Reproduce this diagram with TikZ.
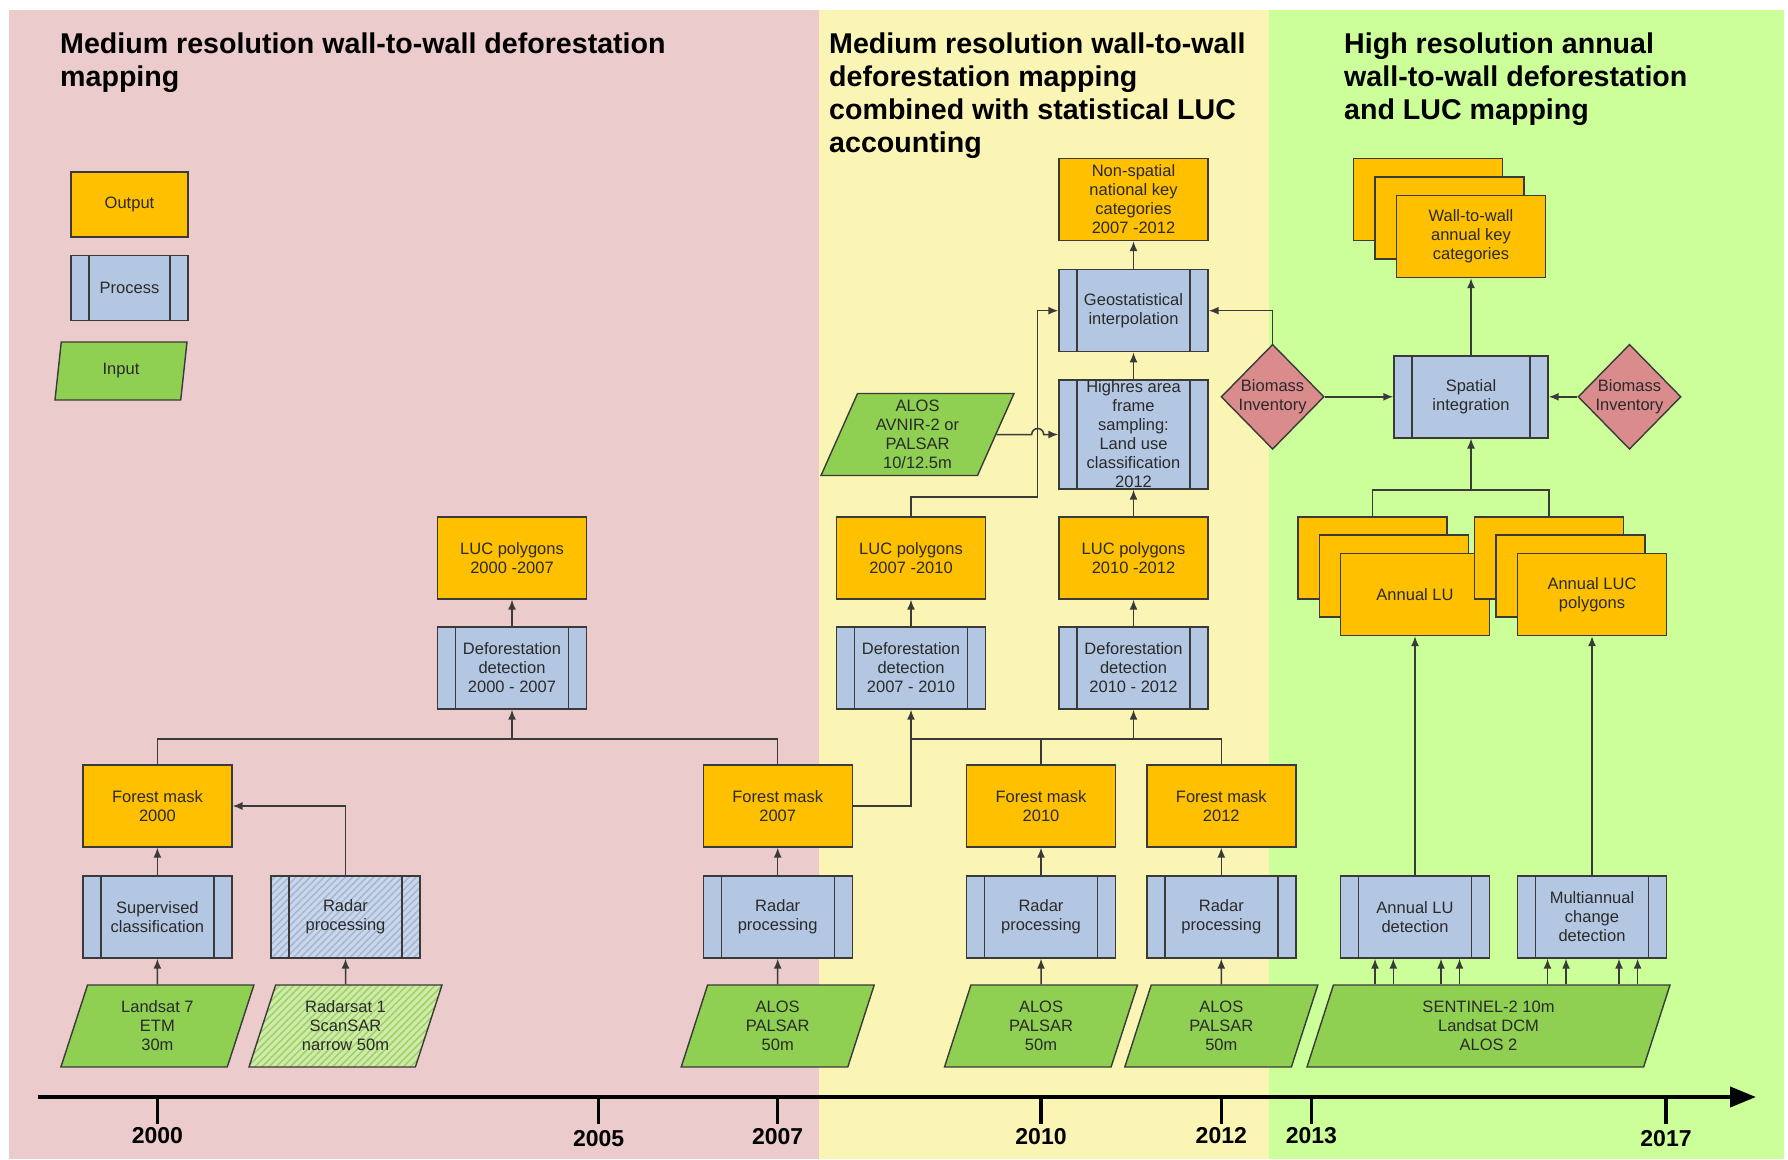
\documentclass[tikz,border=0pt]{standalone}
\usepackage{fontspec}
\setmainfont{Liberation Sans}
\usetikzlibrary{shapes.geometric,arrows.meta,patterns.meta}
\definecolor{pinkbg}{HTML}{EBCBCB}
\definecolor{yelbg}{HTML}{FAF5B4}
\definecolor{grnbg}{HTML}{CCFF99}
\definecolor{outc}{HTML}{FFC000}
\definecolor{procc}{HTML}{B4C7E2}
\definecolor{inc}{HTML}{8FCF52}
\definecolor{diac}{HTML}{DA8B8B}
\definecolor{linec}{HTML}{3A3A3A}
\definecolor{txtc}{HTML}{2A2A2A}
\definecolor{hinc}{HTML}{CFEBA8}
\definecolor{hinl}{HTML}{9FD06A}
\definecolor{hprc}{HTML}{CAD7EA}
\definecolor{hprl}{HTML}{A3B6D4}
\newcommand\bx{\fontsize{16.5}{19}\selectfont}
\newcommand\ttl{\bfseries\fontsize{28.6}{33}\selectfont}
\newcommand\yr{\bfseries\fontsize{23}{26}\selectfont}
\begin{document}
\begin{tikzpicture}[x=1pt,y=-1pt,
  ln/.style={draw=linec, line width=1.5pt},
  arr/.style={ln, -{Latex[length=10pt,width=8pt]}},
  box/.style={draw=linec, line width=1.4pt, minimum width=149pt, minimum height=82pt, inner sep=0pt, align=center, font=\bx, text=txtc},
  outbox/.style={box, fill=outc},
  proc/.style={box, fill=procc, path picture={\draw[linec,line width=1.4pt] ([xshift=18pt]path picture bounding box.south west) -- ([xshift=18pt]path picture bounding box.north west) ([xshift=-18pt]path picture bounding box.south east) -- ([xshift=-18pt]path picture bounding box.north east);}},
  hproc/.style={proc, pattern={Lines[angle=45,distance=5pt,line width=1.5pt]}, pattern color=hprl, preaction={fill=hprc}},
  inp/.style={trapezium, trapezium left angle=62, trapezium right angle=118, trapezium stretches body, draw=linec, line width=1.4pt, fill=inc, minimum width=193pt, minimum height=82pt, inner sep=0pt, align=center, font=\bx, text=txtc},
  hinp/.style={inp, pattern={Lines[angle=45,distance=5pt,line width=1.5pt]}, pattern color=hinl, preaction={fill=hinc}},
  dia/.style={diamond, draw=linec, line width=1.4pt, fill=diac, minimum width=103pt, minimum height=105pt, inner sep=0pt, align=center, font=\bx, text=txtc},
  ttlnode/.style={anchor=north west, align=left, inner sep=0pt, font=\ttl, text=black},
  yrlab/.style={inner sep=0pt, font=\yr, text=black},
  tick/.style={draw=black, line width=3.5pt}
]
\useasboundingbox (0,0) rectangle (1788,1159);
% backgrounds
\fill[white] (0,0) rectangle (1788,1159);
\fill[pinkbg] (9,10) rectangle (819,1159);
\fill[yelbg] (819,10) rectangle (1269,1159);
\fill[grnbg] (1269,10) rectangle (1784,1159);

% titles
\node[ttlnode] (t1) at (60,33) {Medium resolution wall-to-wall deforestation\\mapping};
\node[ttlnode] (t2) at (829,33) {Medium resolution wall-to-wall\\deforestation mapping\\combined with statistical LUC\\accounting};
\node[ttlnode] (t3) at (1344,33) {High resolution annual\\wall-to-wall deforestation\\and LUC mapping};

% legend
\node[outbox, minimum width=117pt, minimum height=65pt] (lgout) at (129.5,204.5) {Output};
\node[proc, minimum width=117pt, minimum height=65pt] (lgproc) at (129.5,288) {Process};
\node[inp, trapezium left angle=67, trapezium right angle=113, minimum width=132pt, minimum height=58pt] (lginp) at (121,371) {Input};

% inputs
\node[inp] (i1) at (157.4,1026) {Landsat 7\\ETM\\30m};
\node[hinp] (i2) at (345.5,1026) {Radarsat 1\\ScanSAR\\narrow 50m};
\node[inp] (i3) at (777.7,1026) {ALOS\\PALSAR\\50m};
\node[inp] (i4) at (1041,1026) {ALOS\\PALSAR\\50m};
\node[inp] (i5) at (1221.3,1026) {ALOS\\PALSAR\\50m};
\node[inp, minimum width=363pt] (i6) at (1488.5,1026) {SENTINEL-2 10m\\Landsat DCM\\ALOS 2};
\node[inp] (av) at (917.5,434.5) {ALOS\\AVNIR-2 or\\PALSAR\\10/12.5m};

% processes
\node[proc] (p1) at (157.4,917) {Supervised\\classification};
\node[hproc] (p2) at (345.5,917) {Radar\\processing};
\node[proc] (p3) at (777.7,917) {Radar\\processing};
\node[proc] (p4) at (1041,917) {Radar\\processing};
\node[proc] (p5) at (1221.3,917) {Radar\\processing};
\node[proc] (p6) at (1415,917) {Annual LU\\detection};
\node[proc] (p7) at (1592,917) {Multiannual\\change\\detection};

% forest masks
\node[outbox] (f1) at (157.4,806) {Forest mask\\2000};
\node[outbox] (f2) at (777.7,806) {Forest mask\\2007};
\node[outbox] (f3) at (1041,806) {Forest mask\\2010};
\node[outbox] (f4) at (1221.3,806) {Forest mask\\2012};

% deforestation detection
\node[proc] (d1) at (512,668) {Deforestation\\detection\\2000 - 2007};
\node[proc] (d2) at (911,668) {Deforestation\\detection\\2007 - 2010};
\node[proc] (d3) at (1133.5,668) {Deforestation\\detection\\2010 - 2012};

% LUC polygons
\node[outbox] (l1) at (512,558) {LUC polygons\\2000 -2007};
\node[outbox] (l2) at (911,558) {LUC polygons\\2007 -2010};
\node[outbox] (l3) at (1133.5,558) {LUC polygons\\2010 -2012};

% middle column
\node[proc, minimum height=109pt] (hs) at (1133.5,434.5) {Highres area\\frame\\sampling:\\Land use\\classification\\2012};
\node[proc] (geo) at (1133.5,310.7) {Geostatistical\\interpolation};
\node[outbox] (ns) at (1133.5,199.5) {Non-spatial\\national key\\categories\\2007 -2012};

% biomass and spatial integration
\node[dia] (bioL) at (1272.6,396.8) {Biomass\\Inventory};
\node[dia] (bioR) at (1629.5,396.8) {Biomass\\Inventory};
\node[proc, minimum width=154pt] (si) at (1471,396.8) {Spatial\\integration};

% stacks
\node[outbox] (wb1) at (1428,199.5) {};
\node[outbox] (wb2) at (1449.5,218) {};
\node[outbox] (wall) at (1471,236.5) {Wall-to-wall\\annual key\\categories};
\node[outbox] (lub1) at (1372.5,558) {};
\node[outbox] (lub2) at (1394,576) {};
\node[outbox] (lu) at (1415,594.5) {Annual LU};
\node[outbox] (lucb1) at (1549,558) {};
\node[outbox] (lucb2) at (1570.5,576) {};
\node[outbox] (luc) at (1592,594.5) {Annual LUC\\polygons};

% connectors left
\draw[arr] (i1.north) -- (p1.south);
\draw[arr] (p1.north) -- (f1.south);
\draw[arr] (i2.north) -- (p2.south);
\draw[arr] (p2.north) |- (f1.east);
\coordinate (j2) at (512,739);
\draw[ln] (f1.north) |- (j2) -| (f2.north);
\draw[arr] (j2) -- (d1.south);
\draw[arr] (d1.north) -- (l1.south);
\draw[arr] (i3.north) -- (p3.south);
\draw[arr] (p3.north) -- (f2.south);
% middle
\draw[arr] (i4.north) -- (p4.south);
\draw[arr] (p4.north) -- (f3.south);
\draw[arr] (i5.north) -- (p5.south);
\draw[arr] (p5.north) -- (f4.south);
\draw[arr] (f2.east) -| (d2.south);
\coordinate (j3) at (1133.5,739);
\draw[ln] (d2.south |- j3) -| (f4.north);
\draw[ln] (f3.north) -- (f3.north |- j3);
\draw[arr] (j3) -- (d3.south);
\draw[arr] (d2.north) -- (l2.south);
\draw[arr] (d3.north) -- (l3.south);
\coordinate (k) at (1037.7,497);
\draw[arr] (l2.north) |- (k) |- (geo.west);
\coordinate (hop) at (k |- av.east);
\draw[arr] (av.east) -- ([xshift=-6pt]hop) arc[start angle=180,end angle=360,radius=6] -- (hs.west);
\draw[arr] (l3.north) -- (hs.south);
\draw[arr] (hs.north) -- (geo.south);
\draw[arr] (geo.north) -- (ns.south);
% right
\draw[arr] (bioL.north) |- (geo.east);
\draw[arr] (bioL.east) -- (si.west);
\draw[arr] (bioR.west) -- (si.east);
\draw[arr] (si.north) -- (wall.south);
\coordinate (j4) at (1471,490);
\draw[ln] (lub1.north) |- (j4) -| (lucb1.north);
\draw[arr] (j4) -- (si.south);
\draw[arr] (p6.north) -- (lu.south);
\draw[arr] (p7.north) -- (luc.south);
\foreach \o in {-40,-21.7,26,44.5}
  \draw[arr] ([xshift=\o pt]p6.south |- i6.north) -- ([xshift=\o pt]p6.south);
\foreach \o in {-44.5,-26,27,45.6}
  \draw[arr] ([xshift=\o pt]p7.south |- i6.north) -- ([xshift=\o pt]p7.south);

% timeline
\coordinate (tl0) at (37.6,1097);
\coordinate (tl1) at (1756,1097);
\draw[draw=black, line width=4pt, -{Triangle[length=26pt,width=20pt]}] (tl0) -- (tl1);
\foreach \x/\lab/\ly in {157.4/2000/1136, 598.7/2005/1139, 777.7/2007/1137, 1041/2010/1137, 1221.3/2012/1136, 1311.4/2013/1136, 1666/2017/1139}{
  \draw[tick] (\x,1097) -- (\x,1124);
  \node[yrlab] (y\lab) at (\x,\ly) {\lab};
}
\end{tikzpicture}
\end{document}
